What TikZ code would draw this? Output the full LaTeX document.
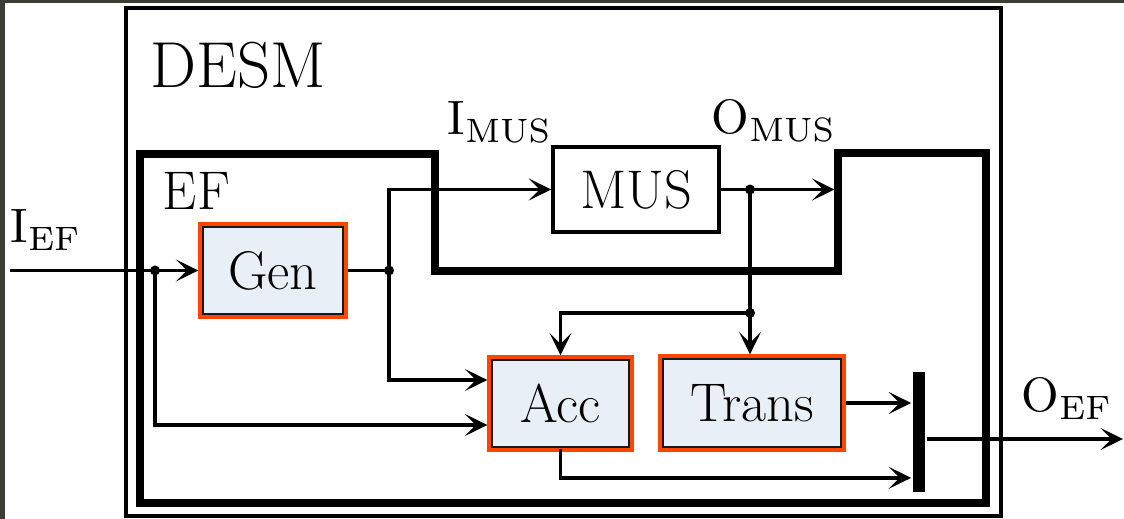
\documentclass[tikz,border=0pt]{standalone}
\usepackage{xcolor}
\usepackage{graphicx}
\usepackage{tikz}
\usetikzlibrary{arrows.meta,fit}

\definecolor{framegray}{HTML}{3C3E35}
\definecolor{blockfill}{HTML}{E9EFF7}
\definecolor{blockline}{HTML}{151A21}
\definecolor{hilite}{HTML}{FF4500}

\newcommand{\bigfont}{\fontsize{31}{37}\selectfont}
\newcommand{\hugefont}{\fontsize{37}{44}\selectfont}
\newcommand{\sig}[2]{\scalebox{2.75}{\normalsize$\mathrm{#1}_{\mathrm{#2}}$}}

\begin{document}
\begin{tikzpicture}[x=0.02cm,y=-0.02cm,line width=2.1pt,
  >={Stealth[length=0.45cm,width=0.44cm,inset=0.22cm]},
  block/.style={draw=blockline,fill=blockfill,line width=2.2pt,font=\bigfont,inner sep=0pt},
  frame/.style={draw=hilite,line width=2pt,inner sep=0.01cm},
  lbl/.style={font=\bigfont,inner sep=0pt,anchor=base west}]
\useasboundingbox (0,0) rectangle (1124,519);
\fill[framegray] (0,0) rectangle (1124,519);
\fill[white] (4.5,3.5) rectangle (1124,519);

% outer system and EF boundary
\draw[line width=2.4pt] (126,8) rectangle (1001,516);
\draw[line width=4.2pt] (140,154) -- (435,154) -- (435,271) -- (838,271) -- (838,153)
  -- (986,153) -- (986,503) -- (140,503) -- cycle;

\node[lbl,font=\hugefont] (desm) at (149,88) {DESM};
\node[lbl] (ef) at (161,210) {EF};

% blocks
\node[block,minimum width=2.82cm,minimum height=1.76cm] (gen) at (273,270.5) {Gen};
\node[frame,fit=(gen)] (genf) {};
\node[block,minimum width=2.76cm,minimum height=1.76cm] (acc) at (560.5,403.5) {Acc};
\node[frame,fit=(acc)] (accf) {};
\node[block,minimum width=3.58cm,minimum height=1.78cm] (trans) at (752,403) {Trans};
\node[frame,fit=(trans)] (transf) {};
\node[draw,font=\bigfont,inner sep=0pt,minimum width=3.32cm,minimum height=1.7cm] (mus) at (636,189.5) {MUS};
\node[fill,inner sep=0pt,minimum width=0.24cm,minimum height=2.4cm] (bar) at (919,432) {};

% signal labels
\node[lbl] (iin) at (9,243) {\sig{I}{EF}};
\node[lbl] (imus) at (446,135) {\sig{I}{MUS}};
\node[lbl] (omus) at (710,134) {\sig{O}{MUS}};
\node[lbl] (oef) at (1020,412) {\sig{O}{EF}};

\coordinate (in) at (10,270.5);
\coordinate (jin) at (155,270.5);
\coordinate (jgen) at (389,270.5);
\coordinate (jmus) at (750,189.5);
\coordinate (jsplit) at (750,313);
\coordinate (efwall) at (834.5,189.5);
\coordinate (out) at (1123,439);

% connections
\draw[->] (in) -- (genf.west);
\draw[->] (jin) |- ([yshift=-0.43cm]accf.west);
\draw (genf.east) -- (jgen);
\draw[->] (jgen) |- (mus.west);
\draw[->] (jgen) |- ([yshift=0.47cm]accf.west);
\draw[->] (mus.east) -- (efwall);
\draw (jmus) -- (jsplit);
\draw[->] (jsplit) -- (jsplit |- transf.north);
\draw[->] (jsplit) -| (accf.north);
\draw[->] (transf.east) -- (transf.east -| bar.west);
\draw[->] (acc.south) |- ([yshift=0.32cm]bar.south west);
\draw[->] (bar.east |- out) -- (out);

\fill (jin) circle (0.1cm) (jgen) circle (0.1cm)
  (jmus) circle (0.1cm) (jsplit) circle (0.1cm);
\end{tikzpicture}
\end{document}
